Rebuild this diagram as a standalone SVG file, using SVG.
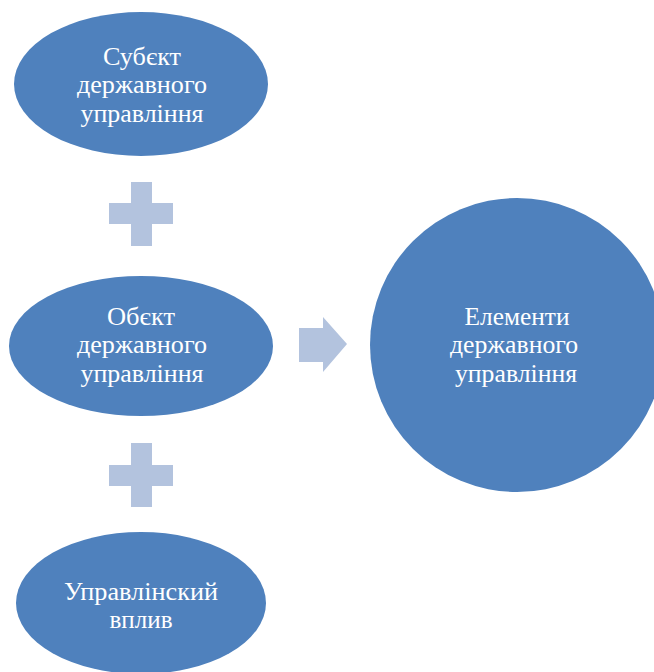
<svg xmlns="http://www.w3.org/2000/svg" width="654" height="672" viewBox="0 0 654 672">
<style>
.n{fill:#4F81BD}
.c{fill:#B3C3DE}
.t{font-family:"Liberation Serif","Times New Roman",serif;font-size:25px;fill:#FFFFFF;text-anchor:middle}
</style>
<rect width="654" height="672" fill="#FFFFFF"/>
<g id="connectors">
<path id="plus1" class="c" d="M131,182H152V203H173V224H152V246H131V224H109V203H131Z"/>
<path id="plus2" class="c" d="M131,443H152V465H173V486H152V507H131V486H109V465H131Z"/>
<path id="arrow" class="c" d="M299,328H323V317L347,344L323,372V362H299Z"/>
</g>
<g id="node1">
<ellipse class="n" cx="141" cy="84" rx="127" ry="72"/>
<text class="t" x="142" y="65" textLength="78" lengthAdjust="spacingAndGlyphs">Субєкт</text>
<text class="t" x="142" y="93" textLength="130" lengthAdjust="spacingAndGlyphs">державного</text>
<text class="t" x="142" y="122" textLength="123" lengthAdjust="spacingAndGlyphs">управління</text>
</g>
<g id="node2">
<ellipse class="n" cx="141" cy="346" rx="132" ry="70"/>
<text class="t" x="141" y="325" textLength="68" lengthAdjust="spacingAndGlyphs">Обєкт</text>
<text class="t" x="142" y="353" textLength="130" lengthAdjust="spacingAndGlyphs">державного</text>
<text class="t" x="142" y="382" textLength="123" lengthAdjust="spacingAndGlyphs">управління</text>
</g>
<g id="node3">
<ellipse class="n" cx="141" cy="603" rx="125" ry="71"/>
<text class="t" x="141" y="600" textLength="154" lengthAdjust="spacingAndGlyphs">Управлінский</text>
<text class="t" x="141" y="628" textLength="63" lengthAdjust="spacingAndGlyphs">вплив</text>
</g>
<g id="node4">
<circle class="n" cx="517" cy="345" r="147"/>
<text class="t" x="517" y="325" textLength="105" lengthAdjust="spacingAndGlyphs">Елементи</text>
<text class="t" x="514" y="353" textLength="128" lengthAdjust="spacingAndGlyphs">державного</text>
<text class="t" x="516" y="382" textLength="122" lengthAdjust="spacingAndGlyphs">управління</text>
</g>
</svg>
